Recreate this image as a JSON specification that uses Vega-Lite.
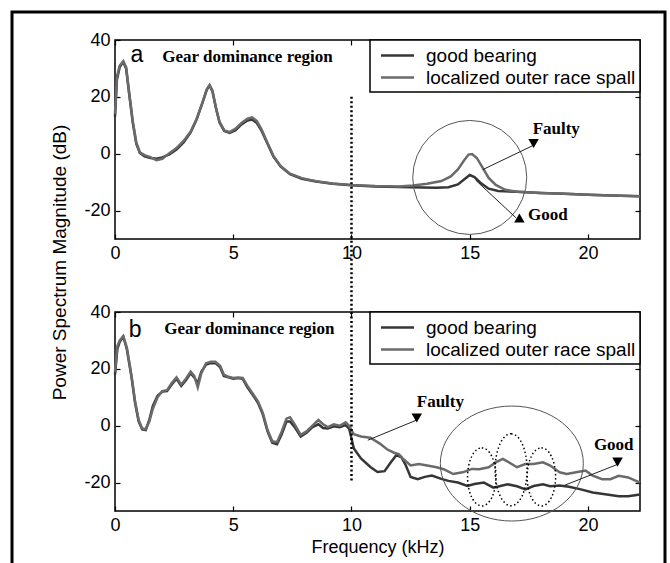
{
  "$schema": "https://vega.github.io/schema/vega-lite/v6.json",
  "background": "white",
  "padding": {"left": 9, "top": 9, "right": 0, "bottom": 0},
  "bounds": "flush",
  "spacing": 73,
  "datasets": {
    "spectrumA": [
      {"s":"good bearing","f":0,"db":13},{"s":"good bearing","f":0.08,"db":26},{"s":"good bearing","f":0.2,"db":30.5},{"s":"good bearing","f":0.35,"db":32.3},{"s":"good bearing","f":0.47,"db":30},{"s":"good bearing","f":0.6,"db":21},{"s":"good bearing","f":0.75,"db":11},{"s":"good bearing","f":0.9,"db":3.5},{"s":"good bearing","f":1.05,"db":0.3},{"s":"good bearing","f":1.25,"db":-0.9},{"s":"good bearing","f":1.5,"db":-1.5},{"s":"good bearing","f":1.75,"db":-1.8},{"s":"good bearing","f":2.0,"db":-1.3},{"s":"good bearing","f":2.3,"db":-0.2},{"s":"good bearing","f":2.6,"db":1.5},{"s":"good bearing","f":2.9,"db":4},{"s":"good bearing","f":3.2,"db":7.5},{"s":"good bearing","f":3.45,"db":12},{"s":"good bearing","f":3.7,"db":18},{"s":"good bearing","f":3.88,"db":22.5},{"s":"good bearing","f":4.0,"db":24},{"s":"good bearing","f":4.12,"db":22},{"s":"good bearing","f":4.27,"db":16},{"s":"good bearing","f":4.42,"db":11},{"s":"good bearing","f":4.62,"db":8},{"s":"good bearing","f":4.85,"db":7.3},{"s":"good bearing","f":5.1,"db":8.3},{"s":"good bearing","f":5.35,"db":10.3},{"s":"good bearing","f":5.6,"db":11.7},{"s":"good bearing","f":5.8,"db":12},{"s":"good bearing","f":6.0,"db":10.8},{"s":"good bearing","f":6.2,"db":8},{"s":"good bearing","f":6.45,"db":3.5},{"s":"good bearing","f":6.7,"db":-1},{"s":"good bearing","f":7.0,"db":-4.5},{"s":"good bearing","f":7.4,"db":-7.2},{"s":"good bearing","f":7.9,"db":-8.8},{"s":"good bearing","f":8.5,"db":-9.8},{"s":"good bearing","f":9.2,"db":-10.6},{"s":"good bearing","f":10.0,"db":-11.1},{"s":"good bearing","f":11.0,"db":-11.5},{"s":"good bearing","f":12.0,"db":-11.7},{"s":"good bearing","f":13.0,"db":-11.9},{"s":"good bearing","f":13.6,"db":-12},{"s":"good bearing","f":14.1,"db":-11.8},{"s":"good bearing","f":14.5,"db":-10.8},{"s":"good bearing","f":14.8,"db":-8.8},{"s":"good bearing","f":15.0,"db":-7.5},{"s":"good bearing","f":15.2,"db":-8.2},{"s":"good bearing","f":15.45,"db":-10.2},{"s":"good bearing","f":15.8,"db":-12.3},{"s":"good bearing","f":16.2,"db":-13.1},{"s":"good bearing","f":17.0,"db":-13.4},{"s":"good bearing","f":18.0,"db":-13.8},{"s":"good bearing","f":19.0,"db":-14.1},{"s":"good bearing","f":20.0,"db":-14.4},{"s":"good bearing","f":21.0,"db":-14.7},{"s":"good bearing","f":22.2,"db":-15},
      {"s":"localized outer race spall","f":0,"db":14},{"s":"localized outer race spall","f":0.08,"db":27},{"s":"localized outer race spall","f":0.2,"db":31},{"s":"localized outer race spall","f":0.35,"db":32.5},{"s":"localized outer race spall","f":0.47,"db":30.5},{"s":"localized outer race spall","f":0.6,"db":21.5},{"s":"localized outer race spall","f":0.75,"db":11.5},{"s":"localized outer race spall","f":0.9,"db":4},{"s":"localized outer race spall","f":1.05,"db":0.5},{"s":"localized outer race spall","f":1.25,"db":-0.5},{"s":"localized outer race spall","f":1.5,"db":-1.2},{"s":"localized outer race spall","f":1.75,"db":-2.3},{"s":"localized outer race spall","f":2.0,"db":-1.8},{"s":"localized outer race spall","f":2.3,"db":0.2},{"s":"localized outer race spall","f":2.6,"db":2},{"s":"localized outer race spall","f":2.9,"db":4.5},{"s":"localized outer race spall","f":3.2,"db":7.8},{"s":"localized outer race spall","f":3.45,"db":12.2},{"s":"localized outer race spall","f":3.7,"db":18},{"s":"localized outer race spall","f":3.88,"db":22.7},{"s":"localized outer race spall","f":4.0,"db":24.2},{"s":"localized outer race spall","f":4.12,"db":22.2},{"s":"localized outer race spall","f":4.27,"db":16.2},{"s":"localized outer race spall","f":4.42,"db":11.2},{"s":"localized outer race spall","f":4.62,"db":8.2},{"s":"localized outer race spall","f":4.85,"db":7.6},{"s":"localized outer race spall","f":5.1,"db":8.8},{"s":"localized outer race spall","f":5.35,"db":10.8},{"s":"localized outer race spall","f":5.6,"db":12.3},{"s":"localized outer race spall","f":5.8,"db":12.8},{"s":"localized outer race spall","f":6.0,"db":11.5},{"s":"localized outer race spall","f":6.2,"db":8.5},{"s":"localized outer race spall","f":6.45,"db":3.8},{"s":"localized outer race spall","f":6.7,"db":-0.8},{"s":"localized outer race spall","f":7.0,"db":-4.3},{"s":"localized outer race spall","f":7.4,"db":-7},{"s":"localized outer race spall","f":7.9,"db":-8.6},{"s":"localized outer race spall","f":8.5,"db":-9.7},{"s":"localized outer race spall","f":9.2,"db":-10.5},{"s":"localized outer race spall","f":10.0,"db":-11},{"s":"localized outer race spall","f":11.0,"db":-11.4},{"s":"localized outer race spall","f":12.0,"db":-11.5},{"s":"localized outer race spall","f":12.6,"db":-11.2},{"s":"localized outer race spall","f":13.2,"db":-10.6},{"s":"localized outer race spall","f":13.8,"db":-9.6},{"s":"localized outer race spall","f":14.2,"db":-8},{"s":"localized outer race spall","f":14.5,"db":-5.5},{"s":"localized outer race spall","f":14.75,"db":-2.5},{"s":"localized outer race spall","f":14.95,"db":-0.3},{"s":"localized outer race spall","f":15.1,"db":-0.1},{"s":"localized outer race spall","f":15.3,"db":-1.5},{"s":"localized outer race spall","f":15.55,"db":-5},{"s":"localized outer race spall","f":15.8,"db":-8.5},{"s":"localized outer race spall","f":16.1,"db":-11},{"s":"localized outer race spall","f":16.5,"db":-12.7},{"s":"localized outer race spall","f":17.0,"db":-13.4},{"s":"localized outer race spall","f":18.0,"db":-13.8},{"s":"localized outer race spall","f":19.0,"db":-14.1},{"s":"localized outer race spall","f":20.0,"db":-14.4},{"s":"localized outer race spall","f":21.0,"db":-14.7},{"s":"localized outer race spall","f":22.2,"db":-15}
    ],
    "spectrumB": [
      {"s":"good bearing","f":0,"db":18},{"s":"good bearing","f":0.1,"db":27},{"s":"good bearing","f":0.2,"db":29.5},{"s":"good bearing","f":0.35,"db":31.3},{"s":"good bearing","f":0.5,"db":27},{"s":"good bearing","f":0.7,"db":17},{"s":"good bearing","f":0.85,"db":8},{"s":"good bearing","f":1.0,"db":1.5},{"s":"good bearing","f":1.15,"db":-1.3},{"s":"good bearing","f":1.3,"db":-1.5},{"s":"good bearing","f":1.45,"db":2},{"s":"good bearing","f":1.6,"db":7},{"s":"good bearing","f":1.8,"db":10.5},{"s":"good bearing","f":2.0,"db":12},{"s":"good bearing","f":2.2,"db":12.2},{"s":"good bearing","f":2.4,"db":14.5},{"s":"good bearing","f":2.6,"db":16.5},{"s":"good bearing","f":2.8,"db":14},{"s":"good bearing","f":3.0,"db":16},{"s":"good bearing","f":3.2,"db":18.5},{"s":"good bearing","f":3.35,"db":17},{"s":"good bearing","f":3.5,"db":15},{"s":"good bearing","f":3.65,"db":19},{"s":"good bearing","f":3.85,"db":21.5},{"s":"good bearing","f":4.05,"db":22},{"s":"good bearing","f":4.25,"db":22},{"s":"good bearing","f":4.45,"db":20.5},{"s":"good bearing","f":4.6,"db":17.5},{"s":"good bearing","f":4.8,"db":17},{"s":"good bearing","f":5.0,"db":16.5},{"s":"good bearing","f":5.2,"db":16.8},{"s":"good bearing","f":5.4,"db":16.5},{"s":"good bearing","f":5.6,"db":13.5},{"s":"good bearing","f":5.85,"db":10.5},{"s":"good bearing","f":6.05,"db":8},{"s":"good bearing","f":6.25,"db":4},{"s":"good bearing","f":6.45,"db":-2},{"s":"good bearing","f":6.65,"db":-6},{"s":"good bearing","f":6.85,"db":-6.5},{"s":"good bearing","f":7.05,"db":-3},{"s":"good bearing","f":7.25,"db":1.5},{"s":"good bearing","f":7.4,"db":1.5},{"s":"good bearing","f":7.6,"db":-0.5},{"s":"good bearing","f":7.85,"db":-3.8},{"s":"good bearing","f":8.1,"db":-2.5},{"s":"good bearing","f":8.35,"db":-0.5},{"s":"good bearing","f":8.6,"db":0.5},{"s":"good bearing","f":8.8,"db":-0.8},{"s":"good bearing","f":9.0,"db":-1},{"s":"good bearing","f":9.25,"db":-0.2},{"s":"good bearing","f":9.5,"db":-0.5},{"s":"good bearing","f":9.75,"db":0.2},{"s":"good bearing","f":9.9,"db":-1},{"s":"good bearing","f":10.1,"db":-8},{"s":"good bearing","f":10.4,"db":-11.5},{"s":"good bearing","f":10.8,"db":-14.5},{"s":"good bearing","f":11.1,"db":-16.3},{"s":"good bearing","f":11.4,"db":-16},{"s":"good bearing","f":11.65,"db":-13},{"s":"good bearing","f":11.9,"db":-10.3},{"s":"good bearing","f":12.1,"db":-11},{"s":"good bearing","f":12.3,"db":-14},{"s":"good bearing","f":12.5,"db":-18},{"s":"good bearing","f":12.8,"db":-18.8},{"s":"good bearing","f":13.1,"db":-18},{"s":"good bearing","f":13.4,"db":-17.5},{"s":"good bearing","f":13.8,"db":-18.7},{"s":"good bearing","f":14.1,"db":-19.4},{"s":"good bearing","f":14.5,"db":-20},{"s":"good bearing","f":14.9,"db":-21.2},{"s":"good bearing","f":15.2,"db":-20.5},{"s":"good bearing","f":15.6,"db":-20},{"s":"good bearing","f":16.0,"db":-21.8},{"s":"good bearing","f":16.3,"db":-21.2},{"s":"good bearing","f":16.6,"db":-20.6},{"s":"good bearing","f":17.0,"db":-21.3},{"s":"good bearing","f":17.35,"db":-22.4},{"s":"good bearing","f":17.7,"db":-21.2},{"s":"good bearing","f":18.1,"db":-20.6},{"s":"good bearing","f":18.4,"db":-21.3},{"s":"good bearing","f":18.8,"db":-21},{"s":"good bearing","f":19.2,"db":-21.5},{"s":"good bearing","f":19.7,"db":-22.4},{"s":"good bearing","f":20.2,"db":-23.5},{"s":"good bearing","f":20.8,"db":-24.2},{"s":"good bearing","f":21.3,"db":-24.8},{"s":"good bearing","f":21.7,"db":-24.8},{"s":"good bearing","f":22.2,"db":-24.2},
      {"s":"localized outer race spall","f":0,"db":19},{"s":"localized outer race spall","f":0.1,"db":28},{"s":"localized outer race spall","f":0.2,"db":30},{"s":"localized outer race spall","f":0.35,"db":31.5},{"s":"localized outer race spall","f":0.5,"db":27.5},{"s":"localized outer race spall","f":0.7,"db":17.5},{"s":"localized outer race spall","f":0.85,"db":8.5},{"s":"localized outer race spall","f":1.0,"db":2},{"s":"localized outer race spall","f":1.15,"db":-1},{"s":"localized outer race spall","f":1.3,"db":-1.2},{"s":"localized outer race spall","f":1.45,"db":1.5},{"s":"localized outer race spall","f":1.6,"db":6},{"s":"localized outer race spall","f":1.8,"db":10},{"s":"localized outer race spall","f":2.0,"db":12.2},{"s":"localized outer race spall","f":2.2,"db":12.5},{"s":"localized outer race spall","f":2.4,"db":15},{"s":"localized outer race spall","f":2.6,"db":17},{"s":"localized outer race spall","f":2.8,"db":14.5},{"s":"localized outer race spall","f":3.0,"db":16.5},{"s":"localized outer race spall","f":3.2,"db":19},{"s":"localized outer race spall","f":3.35,"db":17.5},{"s":"localized outer race spall","f":3.5,"db":13.5},{"s":"localized outer race spall","f":3.65,"db":18.5},{"s":"localized outer race spall","f":3.85,"db":22},{"s":"localized outer race spall","f":4.05,"db":22.5},{"s":"localized outer race spall","f":4.25,"db":22.5},{"s":"localized outer race spall","f":4.45,"db":21},{"s":"localized outer race spall","f":4.6,"db":18},{"s":"localized outer race spall","f":4.8,"db":17.2},{"s":"localized outer race spall","f":5.0,"db":16.8},{"s":"localized outer race spall","f":5.2,"db":17},{"s":"localized outer race spall","f":5.4,"db":16.8},{"s":"localized outer race spall","f":5.6,"db":14},{"s":"localized outer race spall","f":5.85,"db":11},{"s":"localized outer race spall","f":6.05,"db":8.5},{"s":"localized outer race spall","f":6.25,"db":4.5},{"s":"localized outer race spall","f":6.45,"db":-1.5},{"s":"localized outer race spall","f":6.65,"db":-5.5},{"s":"localized outer race spall","f":6.85,"db":-5.8},{"s":"localized outer race spall","f":7.05,"db":-2},{"s":"localized outer race spall","f":7.25,"db":2.5},{"s":"localized outer race spall","f":7.4,"db":3},{"s":"localized outer race spall","f":7.6,"db":0.5},{"s":"localized outer race spall","f":7.85,"db":-3.2},{"s":"localized outer race spall","f":8.1,"db":-2},{"s":"localized outer race spall","f":8.35,"db":0},{"s":"localized outer race spall","f":8.6,"db":2},{"s":"localized outer race spall","f":8.8,"db":0.5},{"s":"localized outer race spall","f":9.0,"db":-0.5},{"s":"localized outer race spall","f":9.25,"db":0.5},{"s":"localized outer race spall","f":9.5,"db":0},{"s":"localized outer race spall","f":9.75,"db":1.2},{"s":"localized outer race spall","f":9.9,"db":0},{"s":"localized outer race spall","f":10.1,"db":-3},{"s":"localized outer race spall","f":10.4,"db":-3.8},{"s":"localized outer race spall","f":10.8,"db":-4.2},{"s":"localized outer race spall","f":11.2,"db":-6.3},{"s":"localized outer race spall","f":11.5,"db":-8.3},{"s":"localized outer race spall","f":11.8,"db":-9.5},{"s":"localized outer race spall","f":12.0,"db":-10},{"s":"localized outer race spall","f":12.2,"db":-11.8},{"s":"localized outer race spall","f":12.5,"db":-14},{"s":"localized outer race spall","f":12.85,"db":-13.5},{"s":"localized outer race spall","f":13.2,"db":-14},{"s":"localized outer race spall","f":13.6,"db":-14.6},{"s":"localized outer race spall","f":13.9,"db":-15.3},{"s":"localized outer race spall","f":14.3,"db":-17},{"s":"localized outer race spall","f":14.7,"db":-16.4},{"s":"localized outer race spall","f":15.1,"db":-15.2},{"s":"localized outer race spall","f":15.4,"db":-15.3},{"s":"localized outer race spall","f":15.8,"db":-14.6},{"s":"localized outer race spall","f":16.1,"db":-12.9},{"s":"localized outer race spall","f":16.4,"db":-11.7},{"s":"localized outer race spall","f":16.6,"db":-12.6},{"s":"localized outer race spall","f":17.0,"db":-14.6},{"s":"localized outer race spall","f":17.35,"db":-13.5},{"s":"localized outer race spall","f":17.7,"db":-13.5},{"s":"localized outer race spall","f":18.1,"db":-12.9},{"s":"localized outer race spall","f":18.4,"db":-14},{"s":"localized outer race spall","f":18.8,"db":-16.4},{"s":"localized outer race spall","f":19.1,"db":-17},{"s":"localized outer race spall","f":19.5,"db":-16.4},{"s":"localized outer race spall","f":19.9,"db":-15.8},{"s":"localized outer race spall","f":20.2,"db":-17.6},{"s":"localized outer race spall","f":20.6,"db":-18.8},{"s":"localized outer race spall","f":20.95,"db":-18.8},{"s":"localized outer race spall","f":21.3,"db":-17.6},{"s":"localized outer race spall","f":21.7,"db":-18.2},{"s":"localized outer race spall","f":22.2,"db":-20}
    ]
  },
  "resolve": {"scale": {"color": "independent", "x": "independent", "y": "independent"}, "legend": {"color": "independent"}},
  "vconcat": [
    {
      "width": 525,
      "height": 199,
      "resolve": {"axis": {"x": "independent", "y": "independent"}},
      "layer": [
        {
          "data": {"values": [{}]},
          "mark": {"type": "rect", "filled": false, "stroke": "black", "strokeWidth": 3, "clip": false},
          "encoding": {
            "x": {"datum": -4.355, "type": "quantitative", "scale": {"domain": [0, 22.2], "nice": false, "zero": false}, "axis": null},
            "x2": {"datum": 23.257},
            "y": {"datum": 49.85, "type": "quantitative", "scale": {"domain": [-30, 40], "nice": false, "zero": false}, "axis": null},
            "y2": {"datum": -145.4}
          }
        },
        {
          "data": {"name": "spectrumA"},
          "mark": {"type": "line", "strokeWidth": 2.5},
          "encoding": {
            "x": {"field": "f", "type": "quantitative", "scale": {"domain": [0, 22.2], "nice": false, "zero": false},
                  "axis": {"orient": "bottom", "values": [0, 5, 10, 15, 20], "title": null, "labelPadding": 10}},
            "y": {"field": "db", "type": "quantitative", "scale": {"domain": [-30, 40], "nice": false, "zero": false},
                  "axis": {"orient": "left", "values": [-20, 0, 20, 40], "labelExpr": "'' + datum.value", "labelPadding": 10,
                           "title": "Power Spectrum Magnitude (dB)", "titleFontSize": 19, "titleX": -56, "titleY": 222,
                           "titleAngle": -90, "titleAlign": "center", "titleBaseline": "middle"}},
            "color": {"field": "s", "type": "nominal",
                      "scale": {"domain": ["good bearing", "localized outer race spall"], "range": ["#363636", "#6a6a6a"]},
                      "legend": {"title": null}}
          }
        },
        {
          "data": {"values": [{}]},
          "mark": {"type": "rule", "stroke": "black", "strokeWidth": 2.5, "strokeDash": [2, 2.5], "clip": false},
          "encoding": {
            "x": {"datum": 10, "type": "quantitative", "scale": {"domain": [0, 22.2], "nice": false, "zero": false}, "axis": null},
            "y": {"datum": 20, "type": "quantitative", "scale": {"domain": [-30, 40], "nice": false, "zero": false}, "axis": null},
            "y2": {"datum": -56}
          }
        },
        {
          "data": {"values": [{"f": 15.0, "db": -8.35}]},
          "mark": {"type": "point", "shape": "circle", "size": 12996, "filled": false, "stroke": "#555555", "strokeWidth": 1, "opacity": 1},
          "encoding": {
            "x": {"field": "f", "type": "quantitative", "scale": {"domain": [0, 22.2], "nice": false, "zero": false}, "axis": null},
            "y": {"field": "db", "type": "quantitative", "scale": {"domain": [-30, 40], "nice": false, "zero": false}, "axis": null}
          }
        },
        {
          "data": {"values": [{"f": 15.55, "db": -5.6, "f2": 17.68, "db2": 2.9}, {"f": 15.25, "db": -9.3, "f2": 16.95, "db2": -22.5}]},
          "mark": {"type": "rule", "stroke": "#222222", "strokeWidth": 1},
          "encoding": {
            "x": {"field": "f", "type": "quantitative", "scale": {"domain": [0, 22.2], "nice": false, "zero": false}, "axis": null},
            "y": {"field": "db", "type": "quantitative", "scale": {"domain": [-30, 40], "nice": false, "zero": false}, "axis": null},
            "x2": {"field": "f2"},
            "y2": {"field": "db2"}
          }
        },
        {
          "data": {"values": [{"f": 17.7, "db": 3.6}]},
          "mark": {"type": "point", "shape": "triangle-down", "size": 110, "filled": true, "fill": "black", "opacity": 1},
          "encoding": {
            "x": {"field": "f", "type": "quantitative", "scale": {"domain": [0, 22.2], "nice": false, "zero": false}, "axis": null},
            "y": {"field": "db", "type": "quantitative", "scale": {"domain": [-30, 40], "nice": false, "zero": false}, "axis": null}
          }
        },
        {
          "data": {"values": [{"f": 17.1, "db": -22.6}]},
          "mark": {"type": "point", "shape": "triangle-up", "size": 110, "filled": true, "fill": "black", "opacity": 1},
          "encoding": {
            "x": {"field": "f", "type": "quantitative", "scale": {"domain": [0, 22.2], "nice": false, "zero": false}, "axis": null},
            "y": {"field": "db", "type": "quantitative", "scale": {"domain": [-30, 40], "nice": false, "zero": false}, "axis": null}
          }
        },
        {
          "data": {"values": [{"t": "Gear dominance region", "f": 2.0, "db": 34}, {"t": "Faulty", "f": 17.66, "db": 8.6}, {"t": "Good", "f": 17.46, "db": -21.4}]},
          "mark": {"type": "text", "font": "Liberation Serif", "fontWeight": "bold", "fontSize": 17, "align": "left", "baseline": "middle", "color": "black"},
          "encoding": {
            "x": {"field": "f", "type": "quantitative", "scale": {"domain": [0, 22.2], "nice": false, "zero": false},
                  "axis": {"orient": "top", "values": [0, 5, 10, 15, 20], "labels": false, "title": null}},
            "y": {"field": "db", "type": "quantitative", "scale": {"domain": [-30, 40], "nice": false, "zero": false},
                  "axis": {"orient": "right", "values": [-20, 0, 20, 40], "labels": false, "title": null}},
            "text": {"field": "t"}
          }
        },
        {
          "data": {"values": [{"t": "a", "f": 0.93, "db": 34.7}]},
          "mark": {"type": "text", "font": "Liberation Sans", "fontSize": 23, "align": "center", "baseline": "middle", "color": "black"},
          "encoding": {
            "x": {"field": "f", "type": "quantitative", "scale": {"domain": [0, 22.2], "nice": false, "zero": false}, "axis": null},
            "y": {"field": "db", "type": "quantitative", "scale": {"domain": [-30, 40], "nice": false, "zero": false}, "axis": null},
            "text": {"field": "t"}
          }
        }
      ]
    },
    {
      "width": 525,
      "height": 199,
      "resolve": {"axis": {"x": "independent", "y": "independent"}},
      "layer": [
        {
          "data": {"name": "spectrumB"},
          "mark": {"type": "line", "strokeWidth": 2.5},
          "encoding": {
            "x": {"field": "f", "type": "quantitative", "scale": {"domain": [0, 22.2], "nice": false, "zero": false},
                  "axis": {"orient": "bottom", "values": [0, 5, 10, 15, 20], "title": "Frequency (kHz)", "labelPadding": 10, "titlePadding": 4}},
            "y": {"field": "db", "type": "quantitative", "scale": {"domain": [-30, 40], "nice": false, "zero": false},
                  "axis": {"orient": "left", "values": [-20, 0, 20, 40], "labelExpr": "'' + datum.value", "labelPadding": 10, "title": null}},
            "color": {"field": "s", "type": "nominal",
                      "scale": {"domain": ["good bearing", "localized outer race spall"], "range": ["#363636", "#6a6a6a"]},
                      "legend": {"title": null}}
          }
        },
        {
          "data": {"values": [{}]},
          "mark": {"type": "rule", "stroke": "black", "strokeWidth": 2.5, "strokeDash": [2, 2.5], "clip": false},
          "encoding": {
            "x": {"datum": 10, "type": "quantitative", "scale": {"domain": [0, 22.2], "nice": false, "zero": false}, "axis": null},
            "y": {"datum": 40, "type": "quantitative", "scale": {"domain": [-30, 40], "nice": false, "zero": false}, "axis": null},
            "y2": {"datum": -20}
          }
        },
        {
          "data": {"values": [{"f": 16.78, "db": -13.3}]},
          "mark": {"type": "point", "shape": "M -1 0 A 1 0.804 0 1 1 1 0 A 1 0.804 0 1 1 -1 0 Z", "size": 20449, "filled": false, "stroke": "#555555", "strokeWidth": 1, "opacity": 1},
          "encoding": {
            "x": {"field": "f", "type": "quantitative", "scale": {"domain": [0, 22.2], "nice": false, "zero": false}, "axis": null},
            "y": {"field": "db", "type": "quantitative", "scale": {"domain": [-30, 40], "nice": false, "zero": false}, "axis": null}
          }
        },
        {
          "data": {"values": [{"f": 15.51, "db": -18}, {"f": 18.03, "db": -18}]},
          "mark": {"type": "point", "shape": "M 0 -1 A 0.49 1 0 1 1 0 1 A 0.49 1 0 1 1 0 -1 Z", "size": 3364, "filled": false, "stroke": "black", "strokeWidth": 1.5, "strokeDash": [1.5, 2.5], "opacity": 1},
          "encoding": {
            "x": {"field": "f", "type": "quantitative", "scale": {"domain": [0, 22.2], "nice": false, "zero": false}, "axis": null},
            "y": {"field": "db", "type": "quantitative", "scale": {"domain": [-30, 40], "nice": false, "zero": false}, "axis": null}
          }
        },
        {
          "data": {"values": [{"f": 16.75, "db": -15.5}]},
          "mark": {"type": "point", "shape": "M 0 -1 A 0.444 1 0 1 1 0 1 A 0.444 1 0 1 1 0 -1 Z", "size": 5184, "filled": false, "stroke": "black", "strokeWidth": 1.5, "strokeDash": [1.5, 2.5], "opacity": 1},
          "encoding": {
            "x": {"field": "f", "type": "quantitative", "scale": {"domain": [0, 22.2], "nice": false, "zero": false}, "axis": null},
            "y": {"field": "db", "type": "quantitative", "scale": {"domain": [-30, 40], "nice": false, "zero": false}, "axis": null}
          }
        },
        {
          "data": {"values": [{"f": 10.69, "db": -5.1, "f2": 12.76, "db2": 2.0}, {"f": 19.0, "db": -21, "f2": 21.25, "db2": -13.6}]},
          "mark": {"type": "rule", "stroke": "#222222", "strokeWidth": 1},
          "encoding": {
            "x": {"field": "f", "type": "quantitative", "scale": {"domain": [0, 22.2], "nice": false, "zero": false}, "axis": null},
            "y": {"field": "db", "type": "quantitative", "scale": {"domain": [-30, 40], "nice": false, "zero": false}, "axis": null},
            "x2": {"field": "f2"},
            "y2": {"field": "db2"}
          }
        },
        {
          "data": {"values": [{"f": 12.76, "db": 2.7}, {"f": 21.25, "db": -12.8}]},
          "mark": {"type": "point", "shape": "triangle-down", "size": 110, "filled": true, "fill": "black", "opacity": 1},
          "encoding": {
            "x": {"field": "f", "type": "quantitative", "scale": {"domain": [0, 22.2], "nice": false, "zero": false}, "axis": null},
            "y": {"field": "db", "type": "quantitative", "scale": {"domain": [-30, 40], "nice": false, "zero": false}, "axis": null}
          }
        },
        {
          "data": {"values": [{"t": "Gear dominance region", "f": 2.08, "db": 34}, {"t": "Faulty", "f": 12.76, "db": 8.4}, {"t": "Good", "f": 20.25, "db": -6.8}]},
          "mark": {"type": "text", "font": "Liberation Serif", "fontWeight": "bold", "fontSize": 17, "align": "left", "baseline": "middle", "color": "black"},
          "encoding": {
            "x": {"field": "f", "type": "quantitative", "scale": {"domain": [0, 22.2], "nice": false, "zero": false},
                  "axis": {"orient": "top", "values": [0, 5, 10, 15, 20], "labels": false, "title": null}},
            "y": {"field": "db", "type": "quantitative", "scale": {"domain": [-30, 40], "nice": false, "zero": false},
                  "axis": {"orient": "right", "values": [-20, 0, 20, 40], "labels": false, "title": null}},
            "text": {"field": "t"}
          }
        },
        {
          "data": {"values": [{"t": "b", "f": 0.85, "db": 33.5}]},
          "mark": {"type": "text", "font": "Liberation Sans", "fontSize": 23, "align": "center", "baseline": "middle", "color": "black"},
          "encoding": {
            "x": {"field": "f", "type": "quantitative", "scale": {"domain": [0, 22.2], "nice": false, "zero": false}, "axis": null},
            "y": {"field": "db", "type": "quantitative", "scale": {"domain": [-30, 40], "nice": false, "zero": false}, "axis": null},
            "text": {"field": "t"}
          }
        }
      ]
    }
  ],
  "config": {
    "font": "Liberation Sans",
    "view": {"stroke": "black", "strokeWidth": 1.5},
    "axis": {
      "domain": false, "grid": false, "ticks": true, "tickColor": "black", "tickSize": -5, "tickWidth": 1.2,
      "labelColor": "black", "labelFont": "Liberation Sans", "labelFontSize": 18, "labelFlush": false, "labelOverlap": false,
      "titleFont": "Liberation Sans", "titleFontSize": 18, "titleFontWeight": "normal", "titleColor": "black"
    },
    "legend": {
      "orient": "top-right", "offset": 0, "padding": 4, "strokeColor": "black", "strokeWidth": 1.5, "fillColor": "white",
      "symbolType": "M -1.65 0 L 1.65 0", "symbolSize": 400, "symbolStrokeWidth": 2.5, "symbolOffset": 12,
      "labelFont": "Liberation Sans", "labelFontSize": 19,
      "labelColor": "black", "labelOffset": 17, "rowPadding": 0, "labelLimit": 400
    }
  }
}
